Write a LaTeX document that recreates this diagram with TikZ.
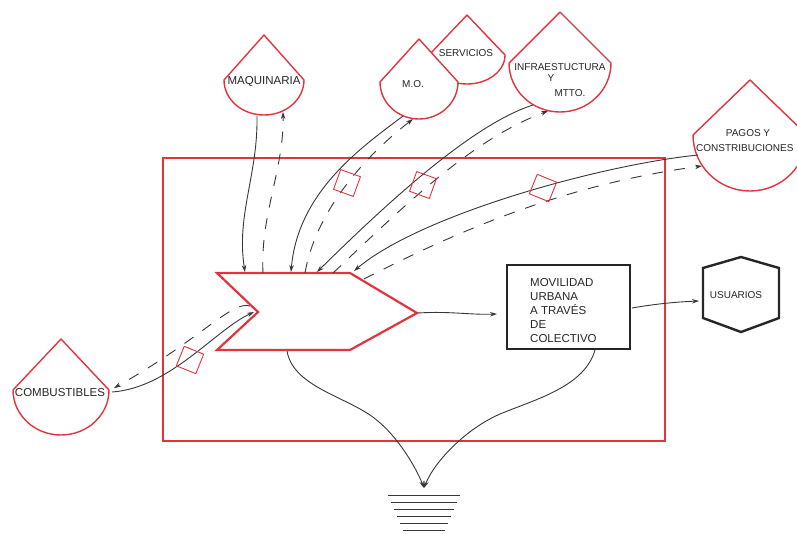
\documentclass[tikz,border=0pt]{standalone}
\usepackage{fontspec}
\setmainfont{Liberation Sans}
\usetikzlibrary{arrows.meta}
\definecolor{dred}{RGB}{226,52,62}
\definecolor{lgray}{RGB}{55,55,55}
\newcommand\dropshape[5]{\path[dropline] (#1,#2-#5) -- (#1-#3,#2) arc[start angle=180,end angle=0,x radius=#3,y radius=#4] -- cycle;}
\begin{document}
\begin{tikzpicture}[x=1pt,y=-1pt,
  flow/.style={draw=lgray, line width=0.9pt, -{Stealth[length=7pt,width=4.5pt]}},
  ret/.style={flow, dash pattern=on 11pt off 11pt},
  dropline/.style={draw=dred, line width=1.4pt, fill=white, line join=round},
  lbl/.style={font=\fontsize{10}{11}\selectfont, inner sep=0pt, text=black!85},
  lblb/.style={font=\fontsize{11.5}{12}\selectfont, inner sep=0pt, text=black!85},
  diam/.style={draw=dred, line width=0.9pt, minimum size=21pt, inner sep=0pt, shape=rectangle}]
\useasboundingbox (0,0) rectangle (797,533);
% main frame
\draw[dred, line width=1.3pt] (163,158) rectangle (665,441);
% drops
\dropshape{467}{55}{38}{29}{40}
\dropshape{264}{80}{40}{35}{45}
\dropshape{419}{82}{39}{37}{43}
\dropshape{560}{63}{51}{49}{51}
\dropshape{750}{135}{57}{56}{55}
\dropshape{61}{390}{48}{45}{51}
\node[lbl] (serv) at (466,53) {SERVICIOS};
\node[lblb] (maq) at (264,82) {MAQUINARIA};
\node[lbl] (mo) at (413,84) {M.O.};
\node[lbl] (infra1) at (560,67) {INFRAESTUCTURA};
\node[lbl] (infra2) at (551,78) {Y};
\node[lbl] (infra3) at (570,93) {MTTO.};
\node[lbl] (pag1) at (748,133) {PAGOS Y};
\node[lbl, anchor=west] (pag2) at (696,148) {CONSTRIBUCIONES};
\node[lblb] (comb) at (60,393) {COMBUSTIBLES};
% chevron
\draw[dred, line width=2.2pt, fill=white, line join=miter] (217,273) -- (350,273) -- (417,313) -- (350,350) -- (217,350) -- (258,312) -- cycle;
% box and hexagon
\node[draw=black!85, line width=1.6pt, minimum width=123pt, minimum height=84pt, inner sep=0pt] (box) at (568.5,307) {};
\node[lblb, align=left, anchor=north west, font=\fontsize{11.5}{14}\selectfont] (boxtxt) at (530,278) {MOVILIDAD\\URBANA\\A TRAVÉS\\DE\\COLECTIVO};
\draw[black!85, line width=2.4pt, line join=miter] (741,257) -- (779,268) -- (779,318) -- (741,332) -- (703,318) -- (703,268) -- cycle;
\node[lbl] (usu) at (736,295) {USUARIOS};
% coordinates
\coordinate (maqS) at (257,116); \coordinate (maqE) at (283,112);
\coordinate (moS) at (403,116);  \coordinate (moE) at (413,119);
\coordinate (inS) at (533,105);  \coordinate (inE) at (548,111);
\coordinate (paS) at (698,155);  \coordinate (paE) at (702,166);
\coordinate (coS) at (112,392);  \coordinate (coE) at (114,388);
\coordinate (chMaq) at (245,272); \coordinate (chMaqR) at (263,273);
\coordinate (chMO) at (291,272);  \coordinate (chMOR) at (305,273);
\coordinate (chIn) at (317,272);  \coordinate (chInR) at (333,273);
\coordinate (chPa) at (354,271);  \coordinate (chPaR) at (364,279);
\coordinate (chN) at (254,312);   \coordinate (chNR) at (250,306);
\coordinate (chTip) at (418,313); \coordinate (chBot) at (287,351);
\coordinate (boxW) at (497,314);  \coordinate (boxE) at (632,308);
\coordinate (boxS) at (595,350);  \coordinate (hexW) at (699,301);
\coordinate (gnd) at (424,488);
% flows
\draw[flow] (maqS) .. controls (258,175) and (236,215) .. (chMaq);
\draw[ret] (chMaqR) .. controls (260,215) and (284,170) .. (maqE);
\draw[flow] (moS) .. controls (365,145) and (298,190) .. (chMO);
\draw[ret] (chMOR) .. controls (315,215) and (360,160) .. (moE);
\draw[flow] (inS) .. controls (470,125) and (380,210) .. (chIn);
\draw[ret] (chInR) .. controls (400,210) and (470,140) .. (inE);
\draw[flow] (paS) .. controls (600,165) and (420,215) .. (chPa);
\draw[ret] (chPaR) .. controls (450,235) and (560,185) .. (paE);
\draw[flow] (coS) .. controls (170,388) and (215,330) .. (chN);
\draw[ret] (chNR) .. controls (232,300) and (200,340) .. (coE);
\draw[flow] (chTip) .. controls (450,311) and (470,315) .. (boxW);
\draw[flow] (boxE) .. controls (655,304) and (675,302) .. (hexW);
\draw[flow] (chBot) .. controls (293,385) and (340,395) .. (370,415) .. controls (395,432) and (415,465) .. (gnd);
\draw[flow] (boxS) .. controls (585,385) and (540,398) .. (505,412) .. controls (470,425) and (435,460) .. (gnd);
% diamonds
\node[diam, rotate=-20] (d1) at (347,183) {};
\node[diam, rotate=-20] (d2) at (423,185) {};
\node[diam, rotate=-22] (d3) at (543,188) {};
\node[diam, rotate=-22] (d4) at (190,360) {};
% ground
\foreach \y/\a/\b in {495/388/460, 502/391/457, 509/394/454, 516/397/451, 523/400/448, 530/403/445}
  \draw[lgray, line width=0.9pt] (\a,\y) -- (\b,\y);
\end{tikzpicture}
\end{document}
